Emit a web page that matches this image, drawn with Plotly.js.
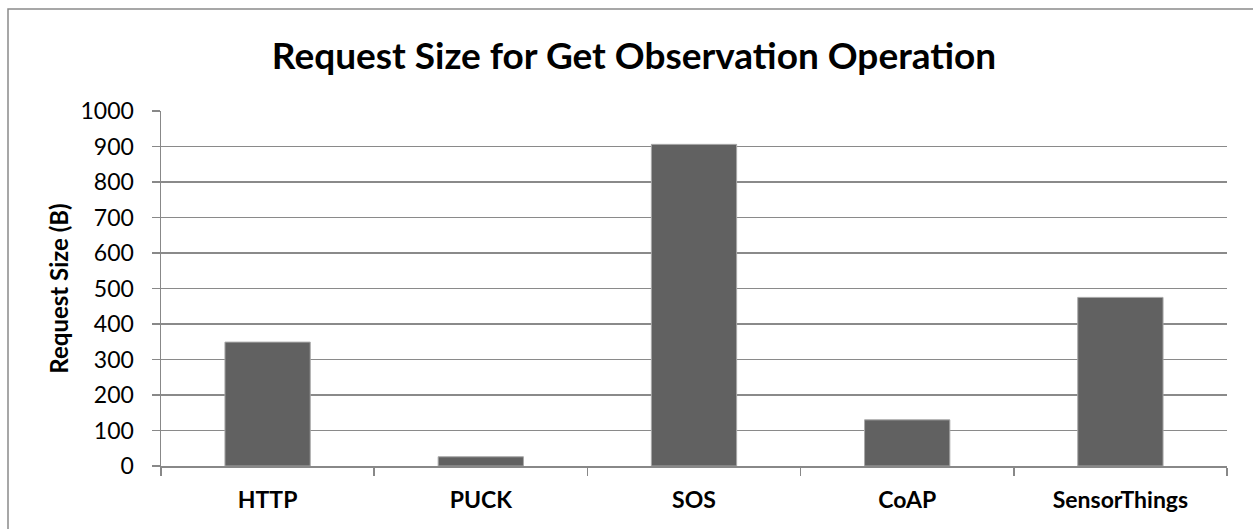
<!DOCTYPE html>
<html>
<head>
<meta charset="utf-8">
<script src="https://cdn.plot.ly/plotly-3.0.1.min.js"></script>
<style>html,body{margin:0;padding:0;background:#fff;}#chart{width:1253px;height:529px;}</style>
</head>
<body>
<div id="chart"></div>
<script>
const categories = ["HTTP", "PUCK", "SOS", "CoAP", "SensorThings"];
const requestSize = [349, 26, 906, 130, 475];
const yTicks = [0, 100, 200, 300, 400, 500, 600, 700, 800, 900, 1000];

const FONT = "Lato, 'Open Sans', sans-serif";
const W = 1253, H = 529;
const m = {l: 161, r: 26, t: 111, b: 63};
const pw = W - m.l - m.r, ph = H - m.t - m.b;
// outer frame (pixel positions converted to paper coords)
const fx0 = (8 - m.l) / pw, fx1 = (1262 - m.l) / pw;
const fy1 = (H - m.b - 9) / ph, fy0 = (H - m.b - 540) / ph;

const trace = {
  type: "bar",
  x: categories,
  y: requestSize,
  marker: {color: "#616161", line: {color: "#a8a8a8", width: 1}},
  hoverinfo: "x+y"
};

const layout = {
  width: W, height: H,
  margin: m,
  paper_bgcolor: "#ffffff",
  plot_bgcolor: "#ffffff",
  bargap: 0.6,
  showlegend: false,
  font: {family: FONT, color: "#000"},
  title: {
    text: "<b>Request Size for Get Observation Operation</b>",
    font: {family: FONT, size: 37, color: "#000"},
    xref: "container", x: 0.506, xanchor: "center",
    yref: "container", y: 1 - 56 / H, yanchor: "middle"
  },
  xaxis: {
    type: "category",
    tickson: "boundaries",
    ticks: "outside", ticklen: 8, tickwidth: 1.5, tickcolor: "#888",
    showline: true, linecolor: "#888", linewidth: 1.5,
    showgrid: false,
    ticklabelstandoff: 13,
    tickfont: {family: FONT, size: 23, color: "#000", weight: "bold"}
  },
  yaxis: {
    range: [0, 1000],
    tickvals: yTicks,
    ticktext: yTicks.map(String),
    ticks: "outside", ticklen: 8, tickwidth: 1.5, tickcolor: "#888",
    showline: true, linecolor: "#888", linewidth: 1.5,
    showgrid: true, gridcolor: "#8a8a8a", gridwidth: 1.5,
    zeroline: false,
    ticklabelstandoff: 13,
    tickfont: {family: FONT, size: 23, color: "#000"},
    title: {
      text: "<b>Request Size (B)</b>",
      font: {family: FONT, size: 24, color: "#000"},
      standoff: 5
    }
  },
  shapes: [{
    type: "rect", xref: "paper", yref: "paper",
    x0: fx0, x1: fx1, y0: fy0, y1: fy1,
    line: {color: "#8a8a8a", width: 1.5},
    fillcolor: "rgba(0,0,0,0)", layer: "below"
  }]
};

Plotly.newPlot("chart", [trace], layout, {displayModeBar: false, staticPlot: true});
</script>
</body>
</html>
